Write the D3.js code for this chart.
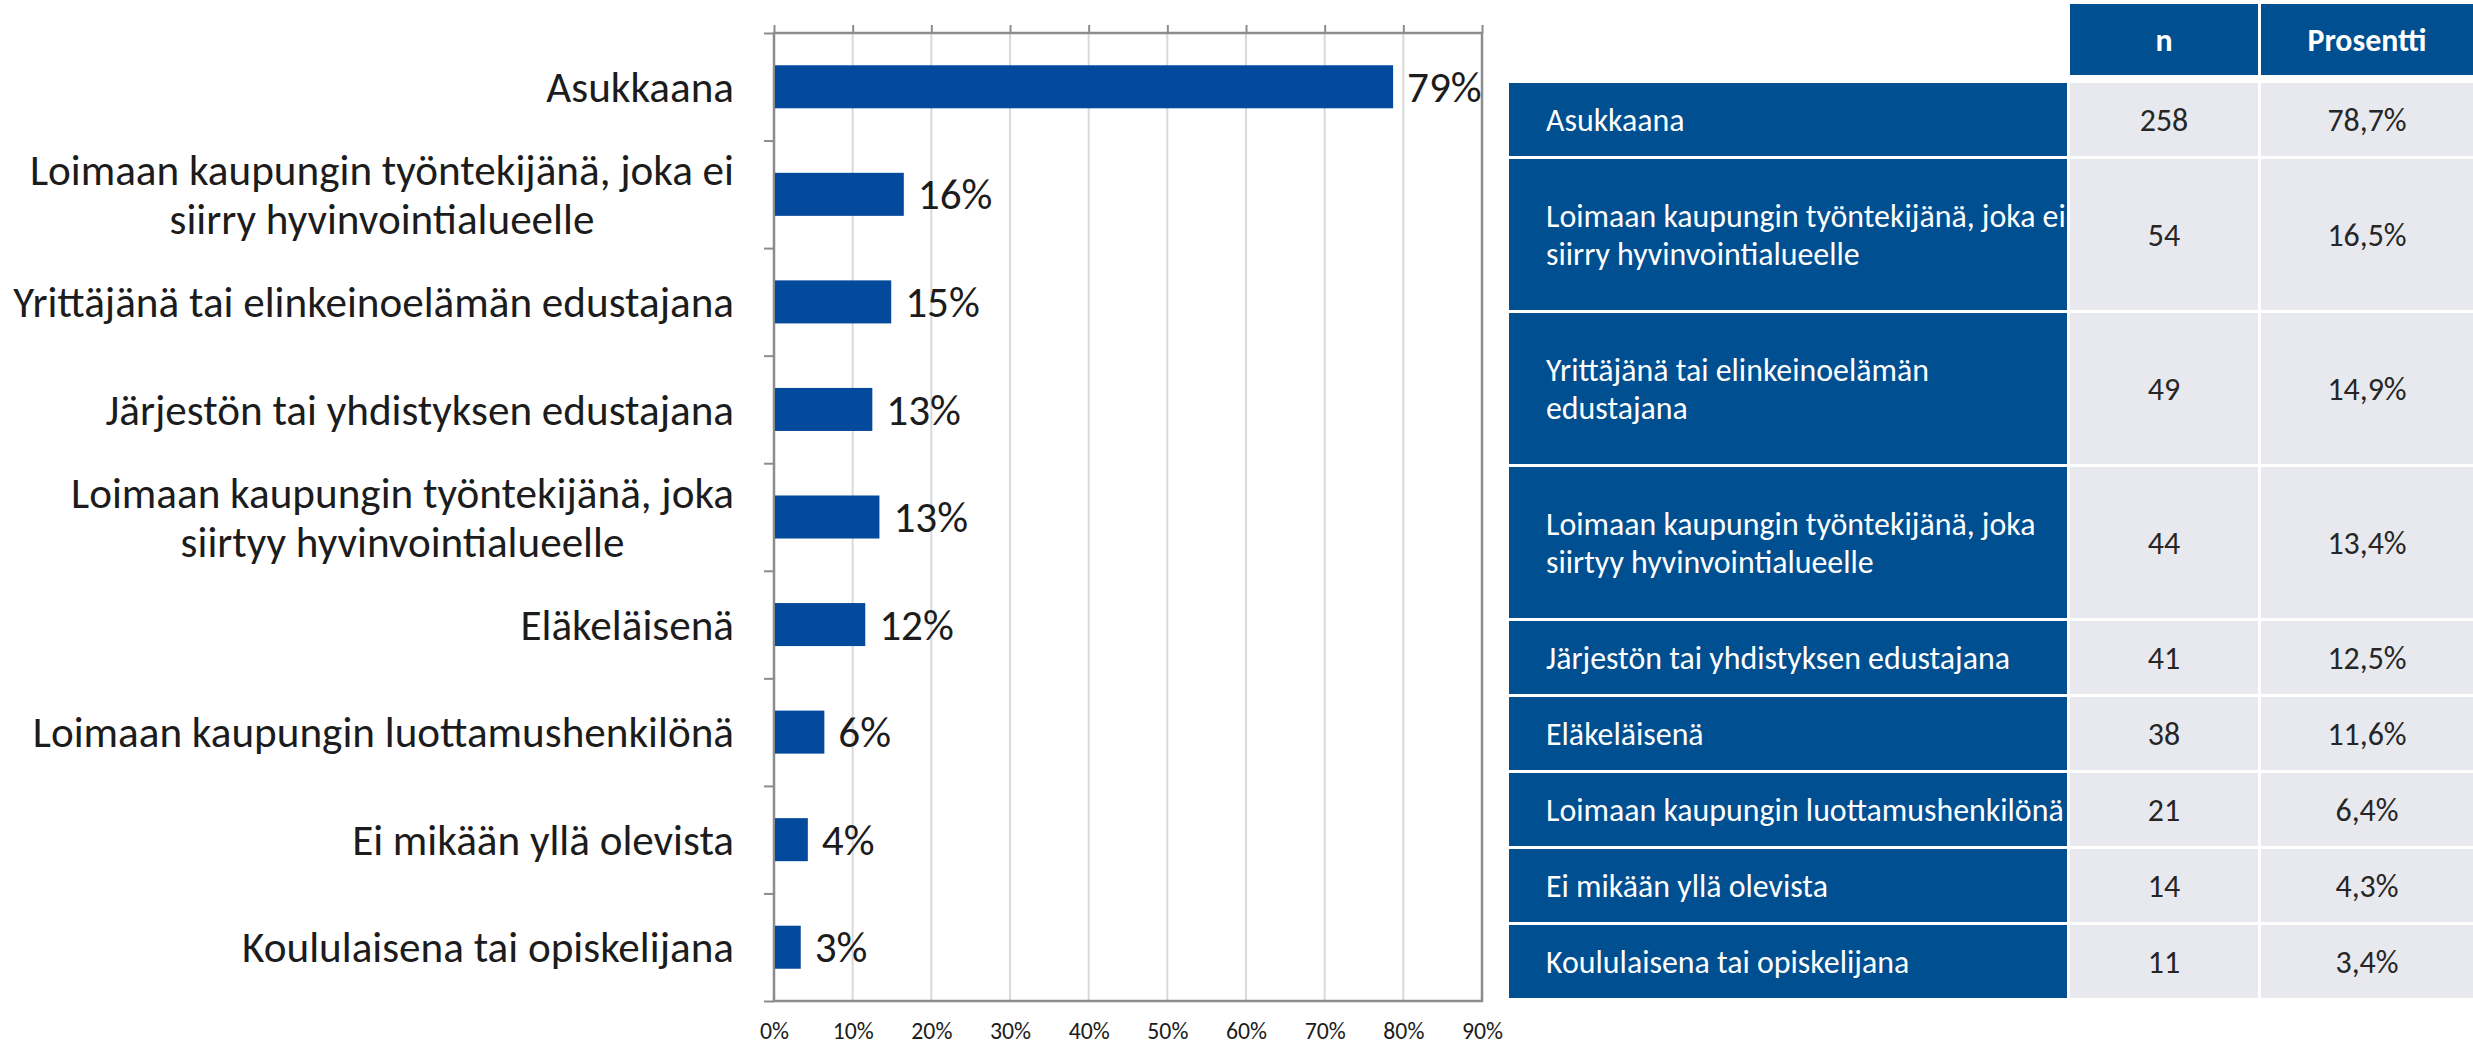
<!DOCTYPE html>
<html><head><meta charset="utf-8">
<script src="https://cdn.jsdelivr.net/npm/d3@7"></script>
<style>
html,body{margin:0;padding:0;background:#fff;}
svg{display:block;}
</style></head><body>
<svg id="c" width="2473" height="1044"></svg>
<script>
// ---------------- data ----------------
const chartCategories = [
  ["Asukkaana"],
  ["Loimaan kaupungin työntekijänä, joka ei", "siirry hyvinvointialueelle"],
  ["Yrittäjänä tai elinkeinoelämän edustajana"],
  ["Järjestön tai yhdistyksen edustajana"],
  ["Loimaan kaupungin työntekijänä, joka", "siirtyy hyvinvointialueelle"],
  ["Eläkeläisenä"],
  ["Loimaan kaupungin luottamushenkilönä"],
  ["Ei mikään yllä olevista"],
  ["Koululaisena tai opiskelijana"]
];
const chartValues = [78.7, 16.5, 14.9, 12.5, 13.4, 11.6, 6.4, 4.3, 3.4];
const chartValueLabels = ["79%", "16%", "15%", "13%", "13%", "12%", "6%", "4%", "3%"];
const xTickValues = [0, 10, 20, 30, 40, 50, 60, 70, 80, 90];
const xTickLabels = ["0%", "10%", "20%", "30%", "40%", "50%", "60%", "70%", "80%", "90%"];

const tableHeaders = ["n", "Prosentti"];
const tableCategories = [
  ["Asukkaana"],
  ["Loimaan kaupungin työntekijänä, joka ei", "siirry hyvinvointialueelle"],
  ["Yrittäjänä tai elinkeinoelämän", "edustajana"],
  ["Loimaan kaupungin työntekijänä, joka", "siirtyy hyvinvointialueelle"],
  ["Järjestön tai yhdistyksen edustajana"],
  ["Eläkeläisenä"],
  ["Loimaan kaupungin luottamushenkilönä"],
  ["Ei mikään yllä olevista"],
  ["Koululaisena tai opiskelijana"]
];
const tableN = [258, 54, 49, 44, 41, 38, 21, 14, 11];
const tablePercentLabels = ["78,7%", "16,5%", "14,9%", "13,4%", "12,5%", "11,6%", "6,4%", "4,3%", "3,4%"];

// ---------------- setup ----------------
const FONT = "Carlito, Calibri, Lato, 'Noto Sans', sans-serif";
const svg = d3.select("#c");
const BAR = "#03499c", BLUE = "#004f91", CELL = "#e8e9ee", INK = "#1c1c1c";

function measure(text, size, weight) {
  const t = svg.append("text").attr("font-family", FONT).attr("font-size", size)
    .attr("font-weight", weight || 400).text(text);
  const w = t.node().getComputedTextLength();
  t.remove();
  return w;
}
const chartFont = 40 * 721 / measure("Yrittäjänä tai elinkeinoelämän edustajana", 40);
const tableFont = 30 * 464 / measure("Järjestön tai yhdistyksen edustajana", 30);
const tickFont = chartFont * 22 / 40;

// ---------------- chart ----------------
const plot = {left: 774, right: 1482, top: 33, bottom: 1001};
const x = d3.scaleLinear().domain([0, 90]).range([plot.left, plot.right]);
const y = d3.scaleBand().domain(d3.range(chartCategories.length))
  .range([plot.top, plot.bottom]).paddingInner(0.6).paddingOuter(0.3);
const yEdge = d3.scaleLinear().domain([0, chartCategories.length]).range([plot.top, plot.bottom]);

const g = svg.append("g");

// gridlines
g.append("g").selectAll("line").data(xTickValues.slice(1, -1)).join("line")
  .attr("x1", d => x(d)).attr("x2", d => x(d))
  .attr("y1", plot.top).attr("y2", plot.bottom)
  .attr("stroke", "#d9d9d9").attr("stroke-width", 2);

// top axis ticks (no labels)
const topAxis = g.append("g").attr("transform", `translate(0,${plot.top})`)
  .call(d3.axisTop(x).tickValues(xTickValues).tickSize(8).tickFormat(""));
topAxis.select(".domain").remove();
topAxis.selectAll("line").attr("stroke", "#8c8c8c").attr("stroke-width", 2);

// left axis ticks at band edges
const leftAxis = g.append("g").attr("transform", `translate(${plot.left},0)`)
  .call(d3.axisLeft(yEdge).tickValues(d3.range(chartCategories.length + 1)).tickSize(10).tickFormat(""));
leftAxis.select(".domain").remove();
leftAxis.selectAll("line").attr("stroke", "#8c8c8c").attr("stroke-width", 2);

// bottom axis labels
const botAxis = g.append("g").attr("transform", `translate(0,${plot.bottom})`)
  .call(d3.axisBottom(x).tickValues(xTickValues).tickSize(0).tickPadding(21)
    .tickFormat((d, i) => xTickLabels[i]));
botAxis.select(".domain").remove();
botAxis.selectAll("text").attr("font-family", FONT).attr("font-size", tickFont)
  .attr("fill", INK).attr("dy", "0.71em");

// plot border
g.append("rect").attr("x", plot.left).attr("y", plot.top)
  .attr("width", plot.right - plot.left).attr("height", plot.bottom - plot.top)
  .attr("fill", "none").attr("stroke", "#8c8c8c").attr("stroke-width", 2.5);

// bars
g.append("g").selectAll("rect").data(chartValues).join("rect")
  .attr("x", x(0) + 1).attr("y", (d, i) => y(i))
  .attr("width", d => x(d) - x(0) - 1).attr("height", y.bandwidth())
  .attr("fill", BAR);

// value labels
g.append("g").selectAll("text").data(chartValues).join("text")
  .attr("x", d => x(d) + 14).attr("y", (d, i) => y(i) + y.bandwidth() / 2)
  .attr("dy", "0.35em")
  .attr("font-family", FONT).attr("font-size", chartFont).attr("fill", INK)
  .text((d, i) => chartValueLabels[i]);

// category labels (block right-aligned, lines centered)
const chartLH = 49;
const catG = g.append("g");
chartCategories.forEach((lines, i) => {
  const widths = lines.map(l => measure(l, chartFont));
  const maxW = d3.max(widths);
  const right = plot.left - 40;
  const cx = right - maxW / 2;
  const cy = y(i) + y.bandwidth() / 2;
  const t = catG.append("text").attr("font-family", FONT).attr("font-size", chartFont)
    .attr("fill", INK).attr("text-anchor", "middle");
  lines.forEach((l, j) => {
    t.append("tspan").attr("x", cx)
      .attr("y", cy + (j - (lines.length - 1) / 2) * chartLH)
      .attr("dy", "0.35em").text(l);
  });
});

// ---------------- table ----------------
const cols = {label: [1509, 2067], n: [2070, 2258], pct: [2261, 2473]};
const header = {top: 4, bottom: 75};
const rowTop0 = 83, rowGap = 3, singleH = 73, doubleH = 151;
const rowHeights = tableCategories.map(l => l.length > 1 ? doubleH : singleH);
const rowTops = [];
rowHeights.reduce((acc, h) => { rowTops.push(acc); return acc + h + rowGap; }, rowTop0);

const tg = svg.append("g");
// header
[["n", cols.n], ["pct", cols.pct]].forEach(([k, c], i) => {
  tg.append("rect").attr("x", c[0]).attr("y", header.top)
    .attr("width", c[1] - c[0]).attr("height", header.bottom - header.top).attr("fill", BLUE);
  tg.append("text").attr("x", (c[0] + c[1]) / 2).attr("y", (header.top + header.bottom) / 2)
    .attr("dy", "0.35em").attr("text-anchor", "middle")
    .attr("font-family", FONT).attr("font-size", tableFont).attr("font-weight", 700)
    .attr("fill", "#fff").text(tableHeaders[i]);
});
// rows
const tableLH = 38;
tableCategories.forEach((lines, i) => {
  const top = rowTops[i], h = rowHeights[i], cy = top + h / 2;
  tg.append("rect").attr("x", cols.label[0]).attr("y", top)
    .attr("width", cols.label[1] - cols.label[0]).attr("height", h).attr("fill", BLUE);
  tg.append("rect").attr("x", cols.n[0]).attr("y", top)
    .attr("width", cols.n[1] - cols.n[0]).attr("height", h).attr("fill", CELL);
  tg.append("rect").attr("x", cols.pct[0]).attr("y", top)
    .attr("width", cols.pct[1] - cols.pct[0]).attr("height", h).attr("fill", CELL);
  const t = tg.append("text").attr("font-family", FONT).attr("font-size", tableFont).attr("fill", "#fff");
  lines.forEach((l, j) => {
    t.append("tspan").attr("x", cols.label[0] + 37)
      .attr("y", cy + (j - (lines.length - 1) / 2) * tableLH).attr("dy", "0.35em").text(l);
  });
  tg.append("text").attr("x", (cols.n[0] + cols.n[1]) / 2).attr("y", cy).attr("dy", "0.35em")
    .attr("text-anchor", "middle").attr("font-family", FONT).attr("font-size", tableFont)
    .attr("fill", "#262626").text(tableN[i]);
  tg.append("text").attr("x", (cols.pct[0] + cols.pct[1]) / 2).attr("y", cy).attr("dy", "0.35em")
    .attr("text-anchor", "middle").attr("font-family", FONT).attr("font-size", tableFont)
    .attr("fill", "#262626").text(tablePercentLabels[i]);
});
</script>
</body></html>
